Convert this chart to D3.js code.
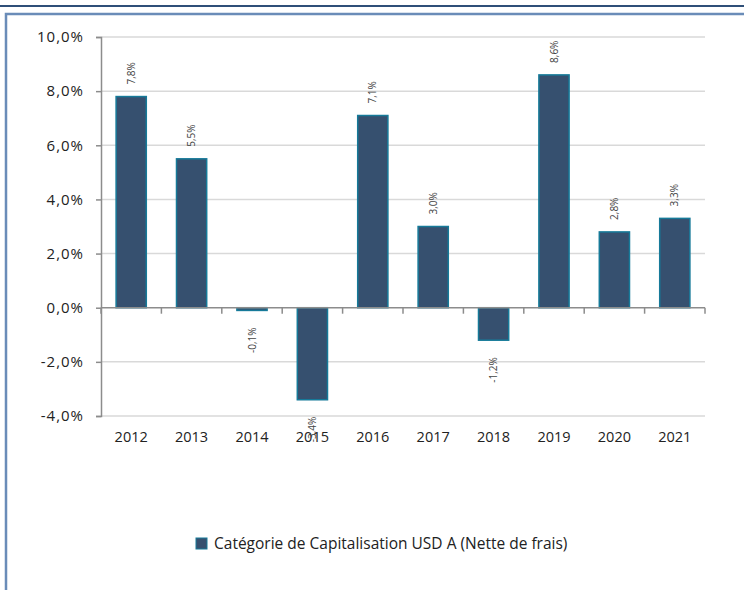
<!DOCTYPE html>
<html>
<head>
<meta charset="utf-8">
<script src="https://cdn.jsdelivr.net/npm/d3@7"></script>
<style>
  body { margin: 0; background: #fff; }
  svg { display: block; font-family: "Open Sans", "DejaVu Sans", sans-serif; }
</style>
</head>
<body>
<svg width="744" height="590"></svg>
<script>
// données du graphique
const annees = ["2012", "2013", "2014", "2015", "2016", "2017", "2018", "2019", "2020", "2021"];
const perfs = [7.8, 5.5, -0.1, -3.4, 7.1, 3.0, -1.2, 8.6, 2.8, 3.3];
const ticksY = [-4, -2, 0, 2, 4, 6, 8, 10];
const legende = "Catégorie de Capitalisation USD A (Nette de frais)";

const svg = d3.select("svg");
const width = +svg.attr("width");
const height = +svg.attr("height");

// cadre
svg.append("line")
    .attr("x1", 0).attr("x2", width).attr("y1", 6).attr("y2", 6)
    .attr("stroke", "#2f4f78").attr("stroke-width", 2);
svg.append("path")
    .attr("d", `M${width},14 H6 V${height}`)
    .attr("fill", "none").attr("stroke", "#6a8cb8").attr("stroke-width", 2.5);

const x = d3.scaleBand().domain(annees).range([101, 705]).paddingInner(0.5).paddingOuter(0.25);
const y = d3.scaleLinear().domain([-4, 10]).range([416, 37]);
const fmt = v => (v < 0 ? "-" : "") + d3.format(".1f")(Math.abs(v)).replace(".", ",") + "%";

// grille
svg.append("g").selectAll("line")
    .data(ticksY.filter(d => d !== 0))
    .join("line")
    .attr("x1", 101).attr("x2", 705)
    .attr("y1", d => y(d)).attr("y2", d => y(d))
    .attr("stroke", "#d9d9d9").attr("stroke-width", 1.5);

// axe Y
const axeY = svg.append("g")
    .attr("transform", "translate(101,0)")
    .call(d3.axisLeft(y).tickValues(ticksY).tickFormat(fmt).tickSize(5).tickPadding(12));
axeY.select(".domain").attr("stroke", "#8c8c8c").attr("stroke-width", 1.5);
axeY.selectAll(".tick line").attr("stroke", "#8c8c8c").attr("stroke-width", 1.5);
axeY.selectAll("text").attr("font-size", 15).attr("fill", "#222")
    .attr("letter-spacing", "1px")
    .attr("font-family", "'Open Sans', sans-serif");

// barres
svg.append("g").selectAll("rect")
    .data(perfs)
    .join("rect")
    .attr("x", (d, i) => x(annees[i]))
    .attr("width", x.bandwidth())
    .attr("y", d => y(Math.max(0, d)))
    .attr("height", d => Math.abs(y(d) - y(0)))
    .attr("fill", "#36506f")
    .attr("stroke", "#167a99")
    .attr("stroke-width", 1.5);

// axe X au niveau de zéro
const bornes = d3.range(annees.length + 1).map(i => 101 + i * (604 / annees.length));
svg.append("line")
    .attr("x1", 101).attr("x2", 705).attr("y1", y(0)).attr("y2", y(0))
    .attr("stroke", "#8c8c8c").attr("stroke-width", 1.5);
svg.append("g").selectAll("line")
    .data(bornes)
    .join("line")
    .attr("x1", d => d).attr("x2", d => d)
    .attr("y1", y(0)).attr("y2", y(0) + 6)
    .attr("stroke", "#8c8c8c").attr("stroke-width", 1.5);

// étiquettes des années
svg.append("g").selectAll("text")
    .data(annees)
    .join("text")
    .attr("x", d => x(d) + x.bandwidth() / 2)
    .attr("y", 442)
    .attr("text-anchor", "middle")
    .attr("font-size", 14.5)
    .attr("fill", "#222")
    .text(d => d);

// étiquettes des valeurs (verticales)
svg.append("g").selectAll("text")
    .data(perfs)
    .join("text")
    .attr("transform", (d, i) => {
        const cx = x(annees[i]) + x.bandwidth() / 2;
        const cy = d >= 0 ? y(d) - 12 : y(d) + 17;
        return `translate(${cx},${cy}) rotate(-90)`;
    })
    .attr("text-anchor", d => d >= 0 ? "start" : "end")
    .attr("dy", "0.35em")
    .attr("font-size", 10)
    .attr("fill", "#444")
    .text(d => fmt(d));

// légende
const leg = svg.append("g").attr("transform", "translate(196,538)");
leg.append("rect")
    .attr("width", 11).attr("height", 11)
    .attr("fill", "#36506f").attr("stroke", "#167a99").attr("stroke-width", 1);
leg.append("text")
    .attr("x", 18).attr("y", 11)
    .attr("font-size", 15.5).attr("fill", "#222")
    .text(legende);
</script>
</body>
</html>
